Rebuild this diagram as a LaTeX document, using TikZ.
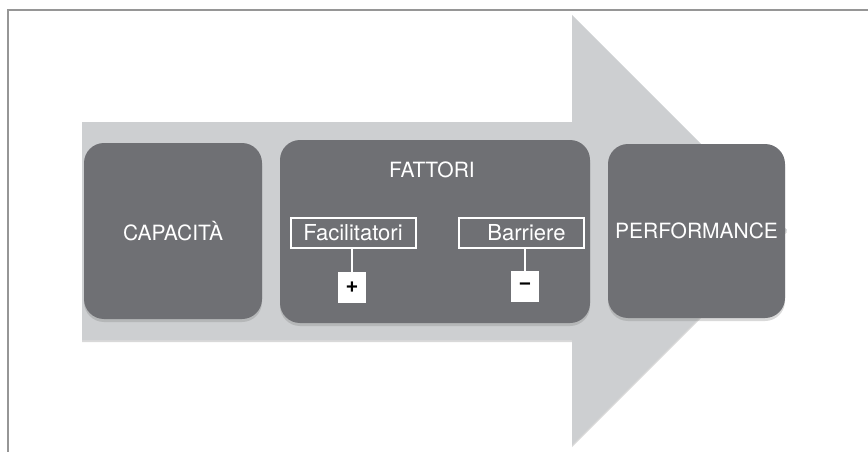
\documentclass[tikz,border=0pt]{standalone}
\usepackage{fontspec}
\setmainfont{TeX Gyre Heros}
\usetikzlibrary{shadows}
\definecolor{boxgray}{RGB}{111,112,116}
\definecolor{arrowgray}{RGB}{205,207,209}
\definecolor{framegray}{RGB}{150,150,150}

\begin{document}
\begin{tikzpicture}[x=1pt,y=-1pt,
  blok/.style={fill=boxgray,rounded corners=20pt,text=white,
    drop shadow={shadow xshift=0pt,shadow yshift=-3pt,opacity=0.3},
    font=\fontsize{21}{24}\selectfont},
  fattore/.style={draw=white,line width=2pt,text=white,minimum width=125pt,
    minimum height=30pt,inner sep=0pt,font=\fontsize{22}{24}\selectfont},
  segno/.style={fill=white,minimum width=28pt,minimum height=31pt,inner sep=0pt,
    font=\fontsize{22}{24}\selectfont\bfseries},
  lien/.style={draw=white,line width=2pt}]
  \useasboundingbox (0,0) rectangle (868,452);
  % frame
  \draw[framegray,line width=2.5pt] (8,452) -- (8,10) -- (868,10);
  % big arrow
  \fill[arrowgray,drop shadow={shadow xshift=0pt,shadow yshift=-2pt,opacity=0.3}]
    (82,122) -- (572,122) -- (572,15) -- (787,230) -- (572,445) -- (572,340) -- (82,340) -- cycle;
  \node[blok,minimum width=178pt,minimum height=176pt] (a) at (173,231) {CAPACITÀ};
  \node[blok,minimum width=310pt,minimum height=183pt] (b) at (435,231.5) {};
  \node[text=white,font=\fontsize{21}{24}\selectfont] (bt) at (432,170) {FATTORI};
  \node[blok,minimum width=177pt,minimum height=174pt] (c) at (696.5,231) {PERFORMANCE};
  \node[fattore] (f) at (353,232.5) {Facilitatori};
  \node[fattore] (g) at (521.5,232.5) {\hspace*{10pt}Barriere};
  \node[segno] (p) at (352,287.5) {+};
  \node[segno] (m) at (525,286.5) {−};
  \draw[lien] (p.north) -- (p.north |- f.south)
    (m.north) -- (m.north |- g.south);
\end{tikzpicture}
\end{document}
